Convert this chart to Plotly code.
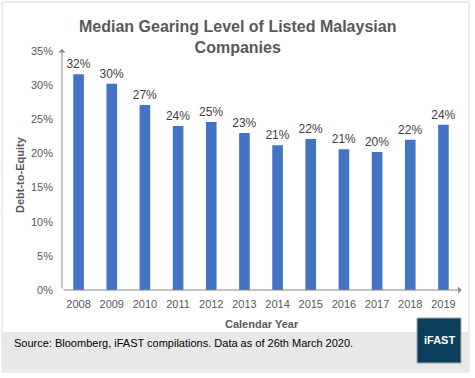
import plotly.graph_objects as go

years = [2008, 2009, 2010, 2011, 2012, 2013, 2014, 2015, 2016, 2017, 2018, 2019]
gearing = [31.6, 30.2, 27.1, 24.0, 24.6, 23.0, 21.2, 22.1, 20.6, 20.2, 22.0, 24.2]
y_ticks = [0, 5, 10, 15, 20, 25, 30, 35]
y_tick_labels = ["0%", "5%", "10%", "15%", "20%", "25%", "30%", "35%"]

title_text = "Median Gearing Level of Listed Malaysian<br>Companies"
source_text = "Source: Bloomberg, iFAST compilations. Data as of 26th March 2020."

W, H = 475, 378
L, R, T, B = 62, 15, 51, 88

fig = go.Figure()
fig.add_trace(go.Bar(
    x=years, y=gearing, width=0.32,
    marker=dict(color="#4472C4", line=dict(width=0)),
    texttemplate="%{y:.0f}%", textposition="outside", constraintext="none",
    textfont=dict(family="Liberation Sans", size=12, color="#404040"),
    cliponaxis=False, hoverinfo="skip",
))

fig.update_layout(
    width=W, height=H,
    margin=dict(l=L, r=R, t=T, b=B, autoexpand=False),
    paper_bgcolor="white", plot_bgcolor="white",
    showlegend=False,
    font=dict(family="Liberation Sans", size=11, color="#595959"),
    xaxis=dict(range=[2007.5, 2019.5], tickvals=years, ticktext=[str(y) for y in years],
               showgrid=False, zeroline=False, showline=False, ticks="", automargin=False,
               ticklabelstandoff=6,
               tickfont=dict(size=11, color="#595959"), fixedrange=True),
    yaxis=dict(range=[0, 35], tickvals=y_ticks, ticktext=y_tick_labels,
               showgrid=False, zeroline=False, showline=False, ticks="", automargin=False,
               ticklabelstandoff=8,
               tickfont=dict(size=11, color="#595959"), fixedrange=True),
)

# axis lines with arrows
fig.add_annotation(x=2007.5, y=35.3, ax=2007.5, ay=0, xref="x", yref="y", axref="x", ayref="y",
                   showarrow=True, arrowhead=1, arrowsize=1.2, arrowwidth=1, arrowcolor="#868686", text="")
fig.add_annotation(x=2019.55, y=0, ax=2007.5, ay=0, xref="x", yref="y", axref="x", ayref="y",
                   showarrow=True, arrowhead=1, arrowsize=1.2, arrowwidth=1, arrowcolor="#868686", text="")

def px_x(p):
    return (p - L) / (W - L - R)

def px_y(p):
    return (H - B - p) / (H - T - B)

# Title
fig.add_annotation(text=f"<b>{title_text}</b>", x=px_x(237), y=px_y(37), xref="paper", yref="paper",
                   showarrow=False, xanchor="center", yanchor="middle",
                   font=dict(family="Liberation Sans", size=16, color="#595959"), align="center")
# axis titles
fig.add_annotation(text="<b>Calendar Year</b>", x=px_x(262), y=px_y(324), xref="paper", yref="paper",
                   showarrow=False, xanchor="center", yanchor="middle",
                   font=dict(family="Liberation Sans", size=11, color="#595959"))
fig.add_annotation(text="<b>Debt-to-Equity</b>", x=px_x(20), y=px_y(175), xref="paper", yref="paper",
                   showarrow=False, xanchor="center", yanchor="middle", textangle=-90,
                   font=dict(family="Liberation Sans", size=11, color="#595959"))

# outer border and footer band
fig.add_shape(type="rect", x0=px_x(3), x1=px_x(468), y0=px_y(371), y1=px_y(332), xref="paper", yref="paper",
              fillcolor="#E8E8E8", line=dict(width=0), layer="below")
fig.add_shape(type="rect", x0=px_x(2), x1=px_x(469), y0=px_y(372), y1=px_y(2), xref="paper", yref="paper",
              fillcolor="rgba(0,0,0,0)", line=dict(color="#D9D9D9", width=1))
fig.add_annotation(text=source_text, x=px_x(12), y=px_y(343), xref="paper", yref="paper",
                   showarrow=False, xanchor="left", yanchor="middle",
                   font=dict(family="Liberation Sans", size=11, color="#000000"))
# logo
fig.add_shape(type="rect", x0=px_x(417), x1=px_x(461), y0=px_y(363), y1=px_y(318), xref="paper", yref="paper",
              fillcolor="#0B3F5C", line=dict(color="#A6A6A6", width=1))
fig.add_annotation(text="<b>iFAST</b>", x=px_x(439), y=px_y(340), xref="paper", yref="paper",
                   showarrow=False, xanchor="center", yanchor="middle",
                   font=dict(family="Liberation Sans", size=11, color="white"))

fig.write_html("out.html", config={"displayModeBar": False},
               post_script="document.body.style.margin='0';document.body.style.padding='0';")
